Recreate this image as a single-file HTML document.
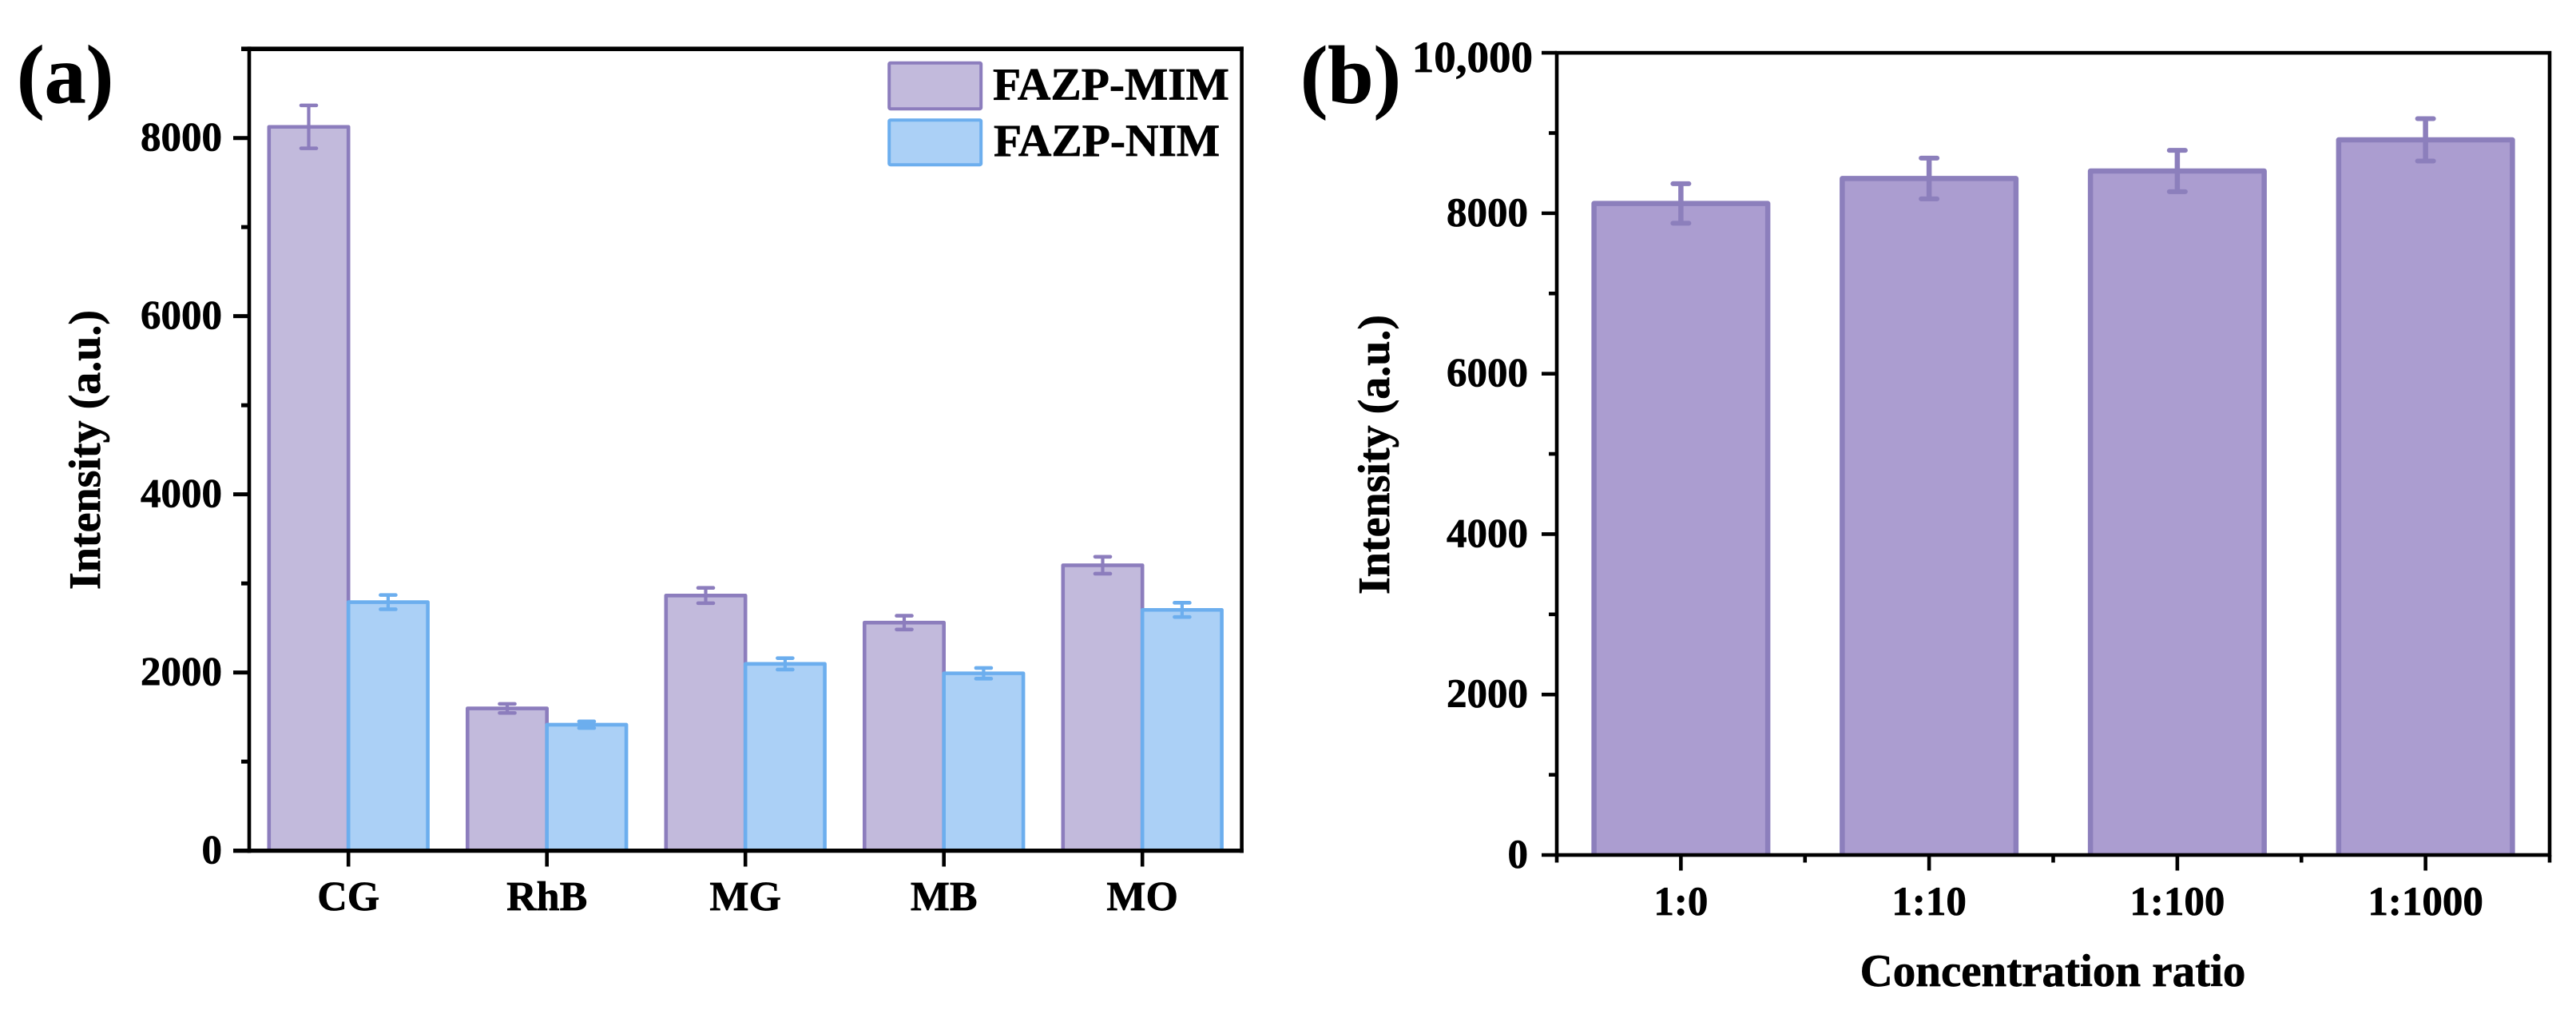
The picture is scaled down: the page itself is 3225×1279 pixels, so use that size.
<!DOCTYPE html>
<html lang="en">
<head>
<meta charset="utf-8">
<title>FAZP-MIM and FAZP-NIM intensity charts</title>
<style>
  html, body { margin: 0; padding: 0; background: #ffffff; }
  svg { display: block; }
  text { font-family: "Liberation Serif", "Times New Roman", serif; font-weight: 700; fill: #000000; stroke: #000000; stroke-width: 0.7px; }
</style>
</head>
<body>
<svg id="figure" xmlns="http://www.w3.org/2000/svg" width="3225" height="1279" viewBox="0 0 3225 1279">
  <rect x="0" y="0" width="3225" height="1279" fill="#ffffff"/>

  <g id="panel-a">
    <text x="21" y="128.5" font-size="104">(a)</text>
    <g id="a-bars"></g>
    <g id="a-errors"></g>
    <g id="a-ticks"></g>
    <g stroke="#000000" fill="none">
      <line x1="312" x2="312" y1="58.4" y2="1067.4" stroke-width="4.6"/>
      <line x1="1554.6" x2="1554.6" y1="58.4" y2="1067.4" stroke-width="4.6"/>
      <line x1="302" x2="1556.9" y1="61.2" y2="61.2" stroke-width="5.6"/>
      <line x1="292" x2="1556.9" y1="1064.6" y2="1064.6" stroke-width="5.2"/>
    </g>
    <text transform="translate(125 563) rotate(-90)" text-anchor="middle" font-size="56">Intensity (a.u.)</text>
    <g>
      <rect x="1113.2" y="78.7" width="115" height="57.5" rx="1.5" fill="#c2badc" stroke="#8c7dbd" stroke-width="4"/>
      <text x="1243" y="124.5" font-size="57.5">FAZP-MIM</text>
      <rect x="1113.2" y="150.2" width="115" height="56" rx="1.5" fill="#abd0f6" stroke="#6caeee" stroke-width="4"/>
      <text x="1244" y="195" font-size="57.5">FAZP-NIM</text>
    </g>
  </g>

  <g id="panel-b">
    <text x="1628" y="128.5" font-size="103">(b)</text>
    <g id="b-bars"></g>
    <g id="b-errors"></g>
    <g id="b-ticks"></g>
    <rect x="1949" y="66.1" width="1243" height="1003.9" fill="none" stroke="#000000" stroke-width="4.6"/>
    <text transform="translate(1738.8 569) rotate(-90)" text-anchor="middle" font-size="56">Intensity (a.u.)</text>
    <text x="2570" y="1234" text-anchor="middle" font-size="57">Concentration ratio</text>
  </g>
</svg>

<script>
// Panel (a) data
const aCategories = ['CG', 'RhB', 'MG', 'MB', 'MO'];
const aMimValues = [8125, 1597, 2864, 2560, 3204];
const aMimErrors = [241, 51, 86, 77, 95];
const aNimValues = [2790, 1414, 2097, 1991, 2703];
const aNimErrors = [80, 37, 64, 60, 80];
const aMajorTicks = [0, 2000, 4000, 6000, 8000];
const aMinorTicks = [1000, 3000, 5000, 7000, 9000];

// Panel (b) data
const bCategories = ['1:0', '1:10', '1:100', '1:1000'];
const bValues = [8122, 8433, 8527, 8915];
const bErrors = [246, 254, 258, 264];
const bMajorTicks = [0, 2000, 4000, 6000, 8000, 10000];
const bMajorLabels = ['0', '2000', '4000', '6000', '8000', '10,000'];
const bMinorTicks = [1000, 3000, 5000, 7000, 9000];

const SVG_NS = 'http://www.w3.org/2000/svg';

function mk(tag, parentId, attrs, content) {
  const el = document.createElementNS(SVG_NS, tag);
  for (const key in attrs) el.setAttribute(key, attrs[key]);
  if (content !== undefined) el.textContent = content;
  document.getElementById(parentId).appendChild(el);
  return el;
}

// Axis functions
function aY(v) { return 1064.6 - (v / 9000) * 1003.4; }
function aX(i) { return 436.2 + i * 248.5; }
function bY(v) { return 1070 - (v / 10000) * 1003.9; }
function bX(pos) { return 1949 + ((pos + 0.5) / 4) * 1243; }

const aBarWidth = 248.5 * 0.4;
const bBarWidth = 1243 / 4 * 0.7;

function barPath(x0, x1, yTop, yBase) {
  return 'M' + x0 + ' ' + yBase + 'V' + yTop + 'H' + x1 + 'V' + yBase;
}

function errorBar(parentId, cx, yHi, yLo, capW, stemW, capH, color, name) {
  const stem = mk('line', parentId, { x1: cx, x2: cx, y1: yHi, y2: yLo, stroke: color, 'stroke-width': stemW });
  
  
  const capTop = mk('line', parentId, { x1: cx - capW / 2, x2: cx + capW / 2, y1: yHi, y2: yHi, stroke: color, 'stroke-width': capH, 'stroke-linecap': 'round' });
  
  
  const capBottom = mk('line', parentId, { x1: cx - capW / 2, x2: cx + capW / 2, y1: yLo, y2: yLo, stroke: color, 'stroke-width': capH, 'stroke-linecap': 'round' });
  
  
}

// Panel (a) purple bars, then blue bars on top
aCategories.forEach(function (cat, i) {
  const x = aX(i);
  const bar = mk('path', 'a-bars', { d: barPath(x - aBarWidth, x, aY(aMimValues[i]), aY(0)), fill: '#c2badc', stroke: '#8c7dbd', 'stroke-width': 4.6, 'stroke-linejoin': 'round' });
  
  
  errorBar('a-errors', x - aBarWidth / 2, aY(aMimValues[i] + aMimErrors[i]), aY(aMimValues[i] - aMimErrors[i]), 19, 4.2, 4.6, '#8c7dbd', 'error-bar-mim-' + cat.toLowerCase());
});
aCategories.forEach(function (cat, i) {
  const x = aX(i);
  const bar = mk('path', 'a-bars', { d: barPath(x, x + aBarWidth, aY(aNimValues[i]), aY(0)), fill: '#abd0f6', stroke: '#6caeee', 'stroke-width': 4.6, 'stroke-linejoin': 'round' });
  
  
  errorBar('a-errors', x + aBarWidth / 2, aY(aNimValues[i] + aNimErrors[i]), aY(aNimValues[i] - aNimErrors[i]), 19, 4.2, 4.6, '#6caeee', 'error-bar-nim-' + cat.toLowerCase());

  const tick = mk('line', 'a-ticks', { x1: x, x2: x, y1: 1064.6, y2: 1084.5, stroke: '#000', 'stroke-width': 4.6 });
  
  
  const label = mk('text', 'a-ticks', { x: x, y: 1139, 'text-anchor': 'middle', 'font-size': 52 }, cat);
  
  
});

aMajorTicks.forEach(function (v) {
  const tick = mk('line', 'a-ticks', { x1: 292, x2: 312, y1: aY(v), y2: aY(v), stroke: '#000', 'stroke-width': 5 });
  
  
  const label = mk('text', 'a-ticks', { x: 278, y: aY(v) + 16, 'text-anchor': 'end', 'font-size': 51 }, String(v));
  
  
});
aMinorTicks.forEach(function (v) {
  const tick = mk('line', 'a-ticks', { x1: 302, x2: 312, y1: aY(v), y2: aY(v), stroke: '#000', 'stroke-width': 5 });
  
  
});

// Panel (b)
bCategories.forEach(function (cat, i) {
  const x = bX(i);
  const bar = mk('path', 'b-bars', { d: barPath(x - bBarWidth / 2, x + bBarWidth / 2, bY(bValues[i]), bY(0)), fill: '#ab9dd0', stroke: '#8c7fbc', 'stroke-width': 6.5, 'stroke-linejoin': 'round' });
  
  
  errorBar('b-errors', x, bY(bValues[i] + bErrors[i]), bY(bValues[i] - bErrors[i]), 20, 6.5, 6, '#8c7fbc', 'error-bar-ratio-' + cat.replace(':', '-'));

  const tick = mk('line', 'b-ticks', { x1: x, x2: x, y1: 1070, y2: 1089.5, stroke: '#000', 'stroke-width': 4.6 });
  
  
  const label = mk('text', 'b-ticks', { x: x, y: 1145, 'text-anchor': 'middle', 'font-size': 51 }, cat);
  
  
});
[-0.5, 0.5, 1.5, 2.5, 3.5].forEach(function (pos) {
  const tick = mk('line', 'b-ticks', { x1: bX(pos), x2: bX(pos), y1: 1070, y2: 1079.5, stroke: '#000', 'stroke-width': 4.6 });
  
  
});
bMajorTicks.forEach(function (v, i) {
  const tick = mk('line', 'b-ticks', { x1: 1930, x2: 1949, y1: bY(v), y2: bY(v), stroke: '#000', 'stroke-width': 4.6 });
  
  
  const isTop = v === 10000;
  const label = mk('text', 'b-ticks', { x: isTop ? 1919 : 1913, y: isTop ? 89.8 : bY(v) + 16, 'text-anchor': 'end', 'font-size': isTop ? 55 : 51 }, bMajorLabels[i]);
  
  
});
bMinorTicks.forEach(function (v) {
  const tick = mk('line', 'b-ticks', { x1: 1939, x2: 1949, y1: bY(v), y2: bY(v), stroke: '#000', 'stroke-width': 4.6 });
  
  
});
</script>
</body>
</html>
